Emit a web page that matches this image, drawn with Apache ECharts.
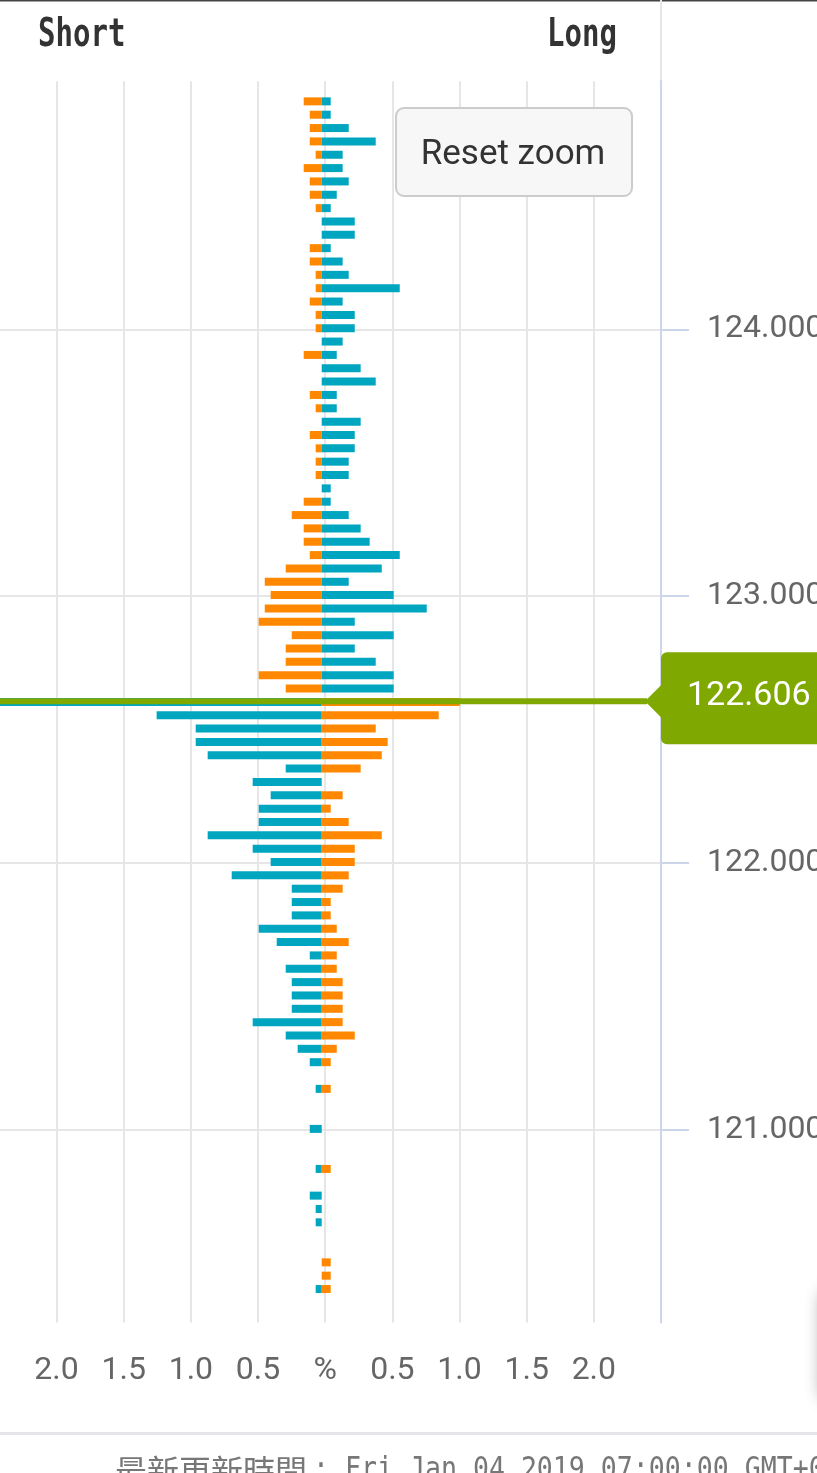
<!DOCTYPE html>
<html><head><meta charset="utf-8">
<script src="https://cdn.jsdelivr.net/npm/echarts@6/dist/echarts.min.js"></script>
<style>html,body{margin:0;padding:0;background:#fff;overflow:hidden}#c{width:817px;height:1473px}</style>
</head><body><div id="c"></div>
<script>
// Price levels (top to bottom)
const PRICE_LEVELS = [
 '124.90','124.85','124.80','124.75','124.70','124.65','124.60','124.55','124.50','124.45',
 '124.40','124.35','124.30','124.25','124.20','124.15','124.10','124.05','124.00','123.95',
 '123.90','123.85','123.80','123.75','123.70','123.65','123.60','123.55','123.50','123.45',
 '123.40','123.35','123.30','123.25','123.20','123.15','123.10','123.05','123.00','122.95',
 '122.90','122.85','122.80','122.75','122.70','122.65','122.60','122.55','122.50','122.45',
 '122.40','122.35','122.30','122.25','122.20','122.15','122.10','122.05','122.00','121.95',
 '121.90','121.85','121.80','121.75','121.70','121.65','121.60','121.55','121.50','121.45',
 '121.40','121.35','121.30','121.25','121.20','121.15','121.10','121.05','121.00','120.95',
 '120.90','120.85','120.80','120.75','120.70','120.65','120.60','120.55','120.50','120.45',
 '120.40','120.35','120.30'
];
// Short side (% , drawn to the left)
const SHORT_PCT = [
 0,0.134,0.089,0.089,0.089,0.045,0.134,0.089,0.089,0.045,
 0,0,0.089,0.089,0.045,0.045,0.089,0.045,0.045,0,
 0.134,0,0,0.089,0.045,0,0.089,0.045,0.045,0.045,
 0,0.134,0.223,0.134,0.134,0.089,0.268,0.424,0.380,0.424,
 0.469,0.223,0.268,0.268,0.469,0.268,2.600,1.229,0.938,0.938,
 0.849,0.268,0.514,0.380,0.469,0.469,0.849,0.514,0.380,0.670,
 0.223,0.223,0.223,0.469,0.335,0.089,0.268,0.223,0.223,0.223,
 0.514,0.268,0.179,0.089,0,0.045,0,0,0.089,0,
 0,0.045,0,0.089,0.045,0.045,0,0,0,0,
 0.045,0,0
];
// Long side (% , drawn to the right)
const LONG_PCT = [
 0,0.067,0.067,0.201,0.402,0.156,0.156,0.201,0.112,0.067,
 0.246,0.246,0.067,0.156,0.201,0.581,0.156,0.246,0.246,0.156,
 0.112,0.290,0.402,0.112,0.112,0.290,0.246,0.246,0.201,0.201,
 0.067,0.067,0.201,0.290,0.357,0.581,0.447,0.201,0.536,0.782,
 0.246,0.536,0.246,0.402,0.536,0.536,1.028,0.871,0.402,0.491,
 0.447,0.290,0,0.156,0.067,0.201,0.447,0.246,0.246,0.201,
 0.156,0.067,0.067,0.112,0.201,0.112,0.112,0.156,0.156,0.156,
 0.156,0.246,0.112,0.067,0,0.067,0,0,0,0,
 0,0.067,0,0,0,0,0,0,0.067,0.067,
 0.067,0,0
];
const CURRENT_PRICE = 122.606;
const PRICE_TICKS = [121, 122, 123, 124];
const PCT_TICKS = [-2, -1.5, -1, -0.5, 0, 0.5, 1, 1.5, 2];

const ORANGE = '#ff8800', BLUE = '#00a5c0', GREEN = '#7fa800';
const GRID_COLOR = '#e6e6e6', AXIS_COLOR = '#ccd6eb';

const chart = echarts.init(document.getElementById('c'), null, {renderer: 'canvas'});
const option = {
  animation: false,
  backgroundColor: '#ffffff',
  grid: {left: -10.6, right: 156, top: 81.35, bottom: 150.6, containLabel: false, outerBoundsMode: 'none'},
  xAxis: [
    {
      type: 'value', min: -2.5, max: 2.5, position: 'bottom',
      axisLine: {show: false, onZero: false},
      axisTick: {show: false, customValues: PCT_TICKS},
      splitLine: {show: true, lineStyle: {color: GRID_COLOR, width: 2}},
      axisLabel: {
        customValues: PCT_TICKS, margin: 33, color: '#666', fontSize: 32, fontFamily: 'Roboto',
        formatter: v => v === 0 ? '%' : Math.abs(v).toFixed(1)
      }
    },
    {type: 'value', min: -2.474, max: 2.526, show: false, splitLine: {show: false}, axisLine: {onZero: false}}
  ],
  yAxis: [
    {
      type: 'value', min: 120.279, max: 124.929, position: 'right',
      axisLine: {show: true, onZero: false, lineStyle: {color: AXIS_COLOR, width: 2}},
      axisTick: {show: true, inside: false, length: 28, customValues: PRICE_TICKS, lineStyle: {color: AXIS_COLOR, width: 2}},
      splitLine: {show: true, lineStyle: {color: GRID_COLOR, width: 2}},
      axisLabel: {customValues: PRICE_TICKS, margin: 46, color: '#666', fontSize: 32, fontFamily: 'Roboto',
        formatter: v => v.toFixed(3)}
    },
    {type: 'category', data: PRICE_LEVELS, inverse: true, show: false, position: 'left', boundaryGap: true, axisLine: {onZero: false}}
  ],
  series: [
    {
      name: 'Short', type: 'bar', xAxisIndex: 1, yAxisIndex: 1, stack: 'book', barWidth: 8,
      data: SHORT_PCT.map(v => -v),
      itemStyle: {color: p => parseFloat(PRICE_LEVELS[p.dataIndex]) > CURRENT_PRICE ? ORANGE : BLUE}
    },
    {
      name: 'Long', type: 'bar', xAxisIndex: 1, yAxisIndex: 1, stack: 'book', barWidth: 8,
      data: LONG_PCT,
      itemStyle: {color: p => parseFloat(PRICE_LEVELS[p.dataIndex]) > CURRENT_PRICE ? BLUE : ORANGE}
    }
  ]
};
chart.setOption(option);

const py = chart.convertToPixel({yAxisIndex: 0}, CURRENT_PRICE);
const axisX = chart.convertToPixel({xAxisIndex: 0}, 2.5);
const leftX = chart.convertToPixel({xAxisIndex: 0}, -2.5);
chart.setOption({
  graphic: [
    {type: 'rect', shape: {x: 0, y: 0, width: 817, height: 1.5}, style: {fill: '#444'}, silent: true},
    {type: 'rect', shape: {x: axisX - 1, y: 0, width: 2, height: 81}, style: {fill: GRID_COLOR}, silent: true},
    {type: 'text', x: 38, y: 36, scaleX: 0.745, silent: true,
      style: {text: 'Short', font: 'bold 39px "DejaVu Sans Mono"', fill: '#333', align: 'left', verticalAlign: 'middle'}},
    {type: 'text', x: 617, y: 36, scaleX: 0.745, silent: true,
      style: {text: 'Long', font: 'bold 39px "DejaVu Sans Mono"', fill: '#333', align: 'right', verticalAlign: 'middle'}},
    {type: 'group', silent: true, children: [
      {type: 'rect', shape: {x: 396, y: 108, width: 236, height: 88, r: 8}, style: {fill: '#f7f7f7', stroke: '#cccccc', lineWidth: 2}},
      {type: 'text', x: 513, y: 155, style: {text: 'Reset zoom', font: '35px Roboto', fill: '#333', align: 'center', verticalAlign: 'middle'}}
    ]},
    {type: 'line', z: 100, silent: true, shape: {x1: leftX, y1: py, x2: axisX - 14, y2: py}, style: {stroke: GREEN, lineWidth: 6}},
    {type: 'polygon', z: 100, silent: true, shape: {points: [[axisX - 16, py], [axisX + 1, py - 17], [axisX + 1, py + 17]]}, style: {fill: GREEN}},
    {type: 'rect', z: 100, silent: true, shape: {x: axisX, y: py - 49, width: 180, height: 92, r: 6}, style: {fill: GREEN}},
    {type: 'text', z: 101, silent: true, x: axisX + 26, y: py - 5,
      style: {text: CURRENT_PRICE.toFixed(3), font: '34px Roboto', fill: '#ffffff', align: 'left', verticalAlign: 'middle'}},
    {type: 'rect', silent: true, shape: {x: 823, y: 1290, width: 120, height: 110, r: 10},
      style: {fill: '#ffffff', shadowBlur: 18, shadowColor: 'rgba(0,0,0,0.45)'}},
    {type: 'rect', shape: {x: 0, y: 1432, width: 817, height: 3}, style: {fill: '#e3e5e8'}, silent: true},
    {type: 'text', x: 115, y: 1455, silent: true,
      style: {text: '最新更新時間', font: '32px "Noto Sans CJK TC"', fill: '#777', align: 'left', verticalAlign: 'top'}},
    {type: 'text', x: 313, y: 1455, scaleX: 0.83, silent: true,
      style: {text: ': Fri Jan 04 2019 07:00:00 GMT+0800', font: '32px "DejaVu Sans Mono"', fill: '#777', align: 'left', verticalAlign: 'top'}}
  ]
});
</script></body></html>
